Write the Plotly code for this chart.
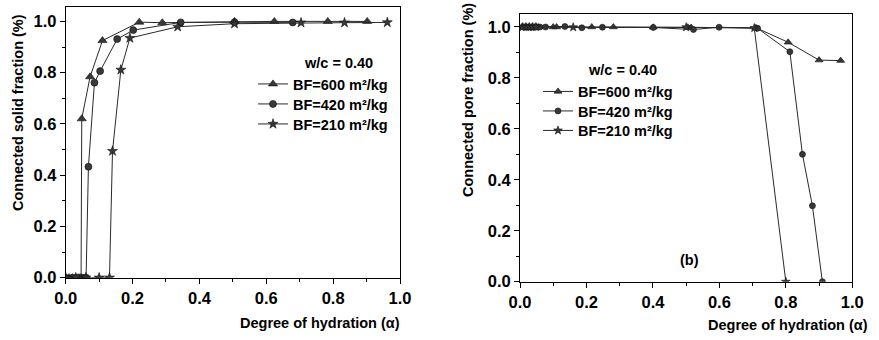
import plotly.graph_objects as go

# ---- Panel (a): connected solid fraction vs degree of hydration ----
solid_600_x = [0.0, 0.01, 0.02, 0.03, 0.04, 0.046, 0.048, 0.073, 0.11, 0.22, 0.289, 0.505, 0.624, 0.784, 0.902]
solid_600_y = [0, 0, 0, 0, 0, 0, 0.62, 0.784, 0.925, 0.997, 0.995, 1.0, 1.0, 1.0, 1.0]
solid_420_x = [0.0, 0.02, 0.035, 0.05, 0.061, 0.068, 0.086, 0.103, 0.154, 0.202, 0.344, 0.505, 0.679]
solid_420_y = [0, 0, 0, 0, 0, 0.433, 0.761, 0.806, 0.931, 0.966, 0.996, 0.997, 0.996]
solid_210_x = [0.0, 0.03, 0.06, 0.1, 0.131, 0.14, 0.165, 0.192, 0.335, 0.505, 0.704, 0.834, 0.962]
solid_210_y = [0, 0, 0, 0, 0, 0.494, 0.811, 0.935, 0.979, 0.991, 0.995, 0.995, 0.996]

# ---- Panel (b): connected pore fraction vs degree of hydration ----
pore_600_x = [0.005, 0.015, 0.025, 0.035, 0.045, 0.055, 0.1, 0.11, 0.216, 0.281, 0.401, 0.505, 0.515, 0.71, 0.807, 0.9, 0.965]
pore_600_y = [1, 1, 1, 1, 1, 1, 1, 1, 1, 1, 0.999, 0.999, 0.998, 0.997, 0.94, 0.87, 0.868]
pore_420_x = [0.01, 0.02, 0.03, 0.04, 0.05, 0.06, 0.077, 0.135, 0.186, 0.248, 0.401, 0.522, 0.599, 0.715, 0.812, 0.85, 0.88, 0.91]
pore_420_y = [1, 1, 1, 1, 1, 1, 1, 1.002, 0.997, 0.999, 0.998, 0.99, 0.999, 0.995, 0.903, 0.5, 0.298, 0.0]
pore_210_x = [0.008, 0.018, 0.028, 0.038, 0.048, 0.16, 0.5, 0.705, 0.80]
pore_210_y = [1, 1, 1, 1, 1, 0.999, 0.999, 0.996, 0.0]

series_names = ["BF=600 m²/kg", "BF=420 m²/kg", "BF=210 m²/kg"]
symbols = ["triangle-up", "circle", "star"]
sizes = [8, 7, 7.5]

FONT = "Liberation Sans, Arial, sans-serif"
LINE = "#2a2a2a"
FILL = "#383838"

W, H = 879, 340


def px_x(p):
    return p / W


def px_y(p):
    return 1 - p / H


fig = go.Figure()

solid = [(solid_600_x, solid_600_y), (solid_420_x, solid_420_y), (solid_210_x, solid_210_y)]
pore = [(pore_600_x, pore_600_y), (pore_420_x, pore_420_y), (pore_210_x, pore_210_y)]

# one legend box per entry so each row sits at its own height
legend_font = dict(family=FONT, size=14.5, color="black", weight="bold")
legend_layout = {}
left_rows = [68, 88, 108]
right_rows = [75.5, 95, 114.5]

for i, (xs, ys) in enumerate(solid):
    key = "legend" if i == 0 else f"legend{i + 1}"
    fig.add_trace(go.Scatter(
        x=xs, y=ys, mode="lines+markers", name=series_names[i],
        line=dict(color=LINE, width=1),
        marker=dict(symbol=symbols[i], size=sizes[i], color=FILL,
                    line=dict(color="#111", width=0.6)),
        xaxis="x", yaxis="y", legend=key, showlegend=True,
    ))
    legend_layout[key] = dict(
        x=px_x(253), y=px_y(left_rows[i]), xanchor="left", yanchor="top",
        bgcolor="rgba(0,0,0,0)", itemwidth=30, font=legend_font,
    )

for i, (xs, ys) in enumerate(pore):
    key = f"legend{i + 4}"
    fig.add_trace(go.Scatter(
        x=xs, y=ys, mode="lines+markers", name=series_names[i],
        line=dict(color=LINE, width=1),
        marker=dict(symbol=symbols[i], size=sizes[i] - 1, color=FILL,
                    line=dict(color="#111", width=0.6)),
        xaxis="x2", yaxis="y2", legend=key, showlegend=True,
    ))
    legend_layout[key] = dict(
        x=px_x(538), y=px_y(right_rows[i]), xanchor="left", yanchor="top",
        bgcolor="rgba(0,0,0,0)", itemwidth=30, font=legend_font,
    )

axis_common = dict(
    showline=True, linecolor="black", linewidth=1, mirror=True,
    ticks="outside", ticklen=5, tickwidth=1, tickcolor="black",
    minor=dict(ticks="outside", ticklen=3, tickcolor="black", dtick=0.1),
    showgrid=False, zeroline=False, automargin=False,
    tickfont=dict(family=FONT, size=16.5, color="black", weight="bold"),
    dtick=0.2, tickformat=".1f",
)

fig.update_layout(
    width=W, height=H,
    margin=dict(l=0, r=0, t=0, b=0),
    paper_bgcolor="white", plot_bgcolor="white",
    font=dict(family=FONT, color="black"),
    showlegend=True,
    xaxis=dict(axis_common, range=[0, 1], domain=[px_x(65.7), px_x(400)], anchor="y"),
    yaxis=dict(axis_common, range=[0, 1.055], domain=[px_y(277.7), px_y(7.3)], anchor="x"),
    xaxis2=dict(axis_common, range=[0, 1], domain=[px_x(520), px_x(852.3)], anchor="y2"),
    yaxis2=dict(axis_common, range=[0, 1.051], domain=[px_y(281.7), px_y(14)], anchor="x2"),
    **legend_layout,
)

title_font = dict(family=FONT, size=14.5, color="black", weight="bold")

annotations = [
    # axis titles
    dict(text="Connected solid fraction (%)", x=px_x(18), y=px_y(113),
         textangle=-90, showarrow=False, font=title_font,
         xref="paper", yref="paper", xanchor="center", yanchor="middle"),
    dict(text="Connected pore fraction (%)", x=px_x(468), y=px_y(100),
         textangle=-90, showarrow=False, font=title_font,
         xref="paper", yref="paper", xanchor="center", yanchor="middle"),
    dict(text="Degree of hydration (α)", x=px_x(402), y=px_y(323),
         showarrow=False, font=title_font,
         xref="paper", yref="paper", xanchor="right", yanchor="middle"),
    dict(text="Degree of hydration (α)", x=px_x(870), y=px_y(325),
         showarrow=False, font=title_font,
         xref="paper", yref="paper", xanchor="right", yanchor="middle"),
    # legend headers and panel label
    dict(text="w/c = 0.40", x=px_x(338.5), y=px_y(63),
         showarrow=False, font=title_font,
         xref="paper", yref="paper", xanchor="center", yanchor="middle"),
    dict(text="w/c = 0.40", x=px_x(622), y=px_y(70),
         showarrow=False, font=title_font,
         xref="paper", yref="paper", xanchor="center", yanchor="middle"),
    dict(text="(b)", x=px_x(689), y=px_y(260),
         showarrow=False, font=title_font,
         xref="paper", yref="paper", xanchor="center", yanchor="middle"),
]
fig.update_layout(annotations=annotations)

fig.write_html("out.html")
